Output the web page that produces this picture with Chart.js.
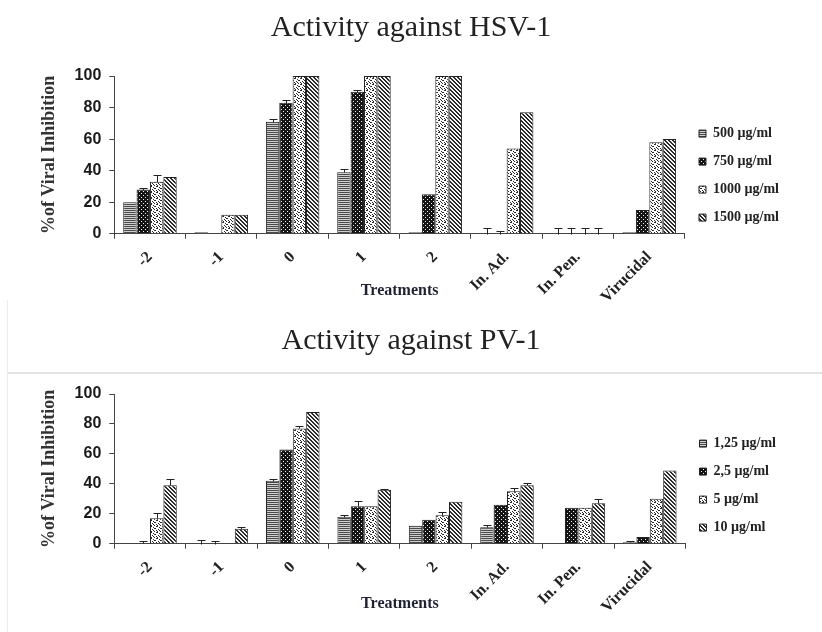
<!DOCTYPE html>
<html><head><meta charset="utf-8">
<script src="https://cdn.jsdelivr.net/npm/chart.js@4.4.1/dist/chart.umd.min.js"></script>
<style>
html,body{margin:0;padding:0;background:#fff;}
#wrap{position:relative;width:822px;height:632px;overflow:hidden;background:#fff;}
#c1{position:absolute;left:0;top:0;width:822px;height:310px;}
#c2{position:absolute;left:0;top:310px;width:822px;height:322px;}
#sep{position:absolute;left:8px;top:372px;width:814px;height:2px;background:#e4e4e4;}
#vline{position:absolute;left:7px;top:300px;width:1px;height:332px;background:#ececec;}
</style></head><body>
<div id="wrap">
<canvas id="c1" width="822" height="310"></canvas>
<div id="sep"></div><div id="vline"></div>
<canvas id="c2" width="822" height="322"></canvas>
</div>
<script>
// ---- data ----
const categories = ['-2', '-1', '0', '1', '2', 'In. Ad.', 'In. Pen.', 'Virucidal'];
const yTicks = [0, 20, 40, 60, 80, 100];

const hsvTitle = 'Activity against HSV-1';
const hsvLabels = ['500 µg/ml', '750 µg/ml', '1000 µg/ml', '1500 µg/ml'];
const hsv500  = [20, 1, 71, 39, 1, 0, 0, 1];
const hsv750  = [28, 0.5, 83, 90, 25, 0, 0, 15];
const hsv1000 = [33, 12, 100, 100, 100, 54, 0, 58];
const hsv1500 = [36, 12, 100, 100, 100, 77, 0, 60];
const hsv500Err  = [0, 0, 2, 2, 0, 3.5, 3.5, 0];
const hsv750Err  = [1, 0, 1.5, 1, 0, 2, 3.5, 0];
const hsv1000Err = [4, 0, 0, 0, 0, 0, 3.5, 0];
const hsv1500Err = [0, 0, 0, 0, 0, 0, 3.5, 0];

const pvTitle = 'Activity against PV-1';
const pvLabels = ['1,25 µg/ml', '2,5 µg/ml', '5 µg/ml', '10 µg/ml'];
const pv125 = [0.5, 0, 42, 18, 12, 11, 0, 1];
const pv25  = [0.5, 0, 63, 25, 16, 26, 24, 4.5];
const pv5   = [17, 0.5, 77, 25, 19, 35, 24, 30];
const pv10  = [39, 10, 88, 36, 28, 39, 27, 49];
const pv125Err = [0, 2.5, 1, 1, 0, 1.5, 0, 1];
const pv25Err  = [1.5, 2, 0, 3.5, 0, 0, 0, 0];
const pv5Err   = [3.5, 0, 1.5, 0, 2.5, 2, 0, 0];
const pv10Err  = [4.5, 1, 0, 0.5, 0, 1.5, 2.7, 0];

const xTitle = 'Treatments';
const yTitle = '%of Viral Inhibition';

// ---- patterns ----
function tile(ctx, w, h, bg, fg, px) {
  const c = document.createElement('canvas'); c.width = w; c.height = h;
  const g = c.getContext('2d');
  g.fillStyle = bg; g.fillRect(0, 0, w, h);
  g.fillStyle = fg; px.forEach(p => g.fillRect(p[0], p[1], 1, 1));
  return ctx.createPattern(c, 'repeat');
}
function patterns(ctx) {
  return [
    tile(ctx, 2, 2, '#cfcfcf', '#4a4a4a', [[0,0],[1,0]]),
    tile(ctx, 4, 4, '#141414', '#f0f0f0', [[1,1],[3,3]]),
    tile(ctx, 6, 6, '#ffffff', '#2a2a2a', [[0,0],[1,0],[3,1],[4,2],[5,2],[2,3],[0,4],[1,5],[3,4],[4,5]]),
    tile(ctx, 4, 4, '#f4f4f4', '#2a2a2a', [[0,0],[1,1],[2,2],[3,3],[1,0],[2,1],[3,2],[0,3]])
  ];
}

const errorBarPlugin = {
  id: 'errorBars',
  afterDatasetsDraw(chart) {
    const ctx = chart.ctx, y = chart.scales.y;
    chart.data.datasets.forEach((ds, di) => {
      if (!ds.errors) return;
      const meta = chart.getDatasetMeta(di);
      meta.data.forEach((bar, i) => {
        const e = ds.errors[i];
        if (!e) return;
        const v = ds.data[i];
        const x = Math.round(bar.x) + 0.5;
        const yTop = Math.round(y.getPixelForValue(v + e)) + 0.5;
        const yBase = Math.round(y.getPixelForValue(v)) + 0.5;
        ctx.save();
        ctx.strokeStyle = '#222'; ctx.lineWidth = 1;
        ctx.beginPath();
        ctx.moveTo(x, yBase); ctx.lineTo(x, yTop);
        ctx.moveTo(x - 4, yTop); ctx.lineTo(x + 4, yTop);
        ctx.stroke(); ctx.restore();
      });
    });
  }
};

function makeChart(id, title, legendLabels, series, errors, opt) {
  const canvas = document.getElementById(id);
  const ctx = canvas.getContext('2d');
  const pats = patterns(ctx);
  return new Chart(ctx, {
    type: 'bar',
    data: {
      labels: categories,
      datasets: series.map((s, i) => ({
        label: legendLabels[i],
        data: s,
        errors: errors[i],
        backgroundColor: pats[i],
        borderColor: '#222',
        borderWidth: 1,
        categoryPercentage: 0.75,
        barPercentage: 1.0
      }))
    },
    options: {
      responsive: false,
      animation: false,
      devicePixelRatio: 1,
      layout: { padding: { left: opt.pad, right: opt.pad, top: 0, bottom: 0 } },
      plugins: {
        title: {
          display: true, text: title, color: '#222',
          font: { family: 'Liberation Serif', size: 30, weight: 'normal' },
          padding: { top: opt.titleTop, bottom: opt.titleBottom }
        },
        legend: {
          position: 'right',
          title: { display: true, text: ' ', font: { size: 1 }, padding: { top: opt.legendShift, bottom: 0 } },
          labels: {
            boxWidth: 7, boxHeight: 7, padding: 14, color: '#222',
            font: { family: 'Liberation Serif', size: 14, weight: 'bold' }
          }
        },
        tooltip: { enabled: false }
      },
      scales: {
        x: {
          grid: { drawOnChartArea: false, drawTicks: true, tickLength: 5, color: '#444' },
          border: { color: '#444', width: 1 },
          ticks: {
            autoSkip: false, minRotation: 45, maxRotation: 45, padding: 9, color: '#222',
            font: { family: 'Liberation Serif', size: 16, weight: 'bold' }
          },
          title: {
            display: true, text: xTitle, color: '#1f2233',
            font: { family: 'Liberation Serif', size: 16, weight: 'bold' },
            padding: { top: opt.xTitleTop, bottom: opt.xTitleBottom }
          }
        },
        y: {
          min: 0, max: 100,
          afterBuildTicks: (axis) => { axis.ticks = yTicks.map(v => ({ value: v })); },
          grid: { drawOnChartArea: false, drawTicks: true, tickLength: 5, color: '#444' },
          border: { color: '#444', width: 1 },
          ticks: {
            padding: 8, color: '#1a1a1a',
            font: { family: 'Liberation Sans', size: 16, weight: 'bold' }
          },
          title: {
            display: true, text: yTitle, color: '#333',
            font: { family: 'Liberation Serif', size: 18, weight: 'bold' },
            padding: { top: 39 - opt.pad, bottom: 6 }
          }
        }
      }
    },
    plugins: [errorBarPlugin]
  });
}

makeChart('c1', hsvTitle, hsvLabels,
  [hsv500, hsv750, hsv1000, hsv1500],
  [hsv500Err, hsv750Err, hsv1000Err, hsv1500Err],
  { pad: 33, titleTop: 10, titleBottom: 30, legendShift: 40, xTitleTop: -35, xTitleBottom: 10 });

makeChart('c2', pvTitle, pvLabels,
  [pv125, pv25, pv5, pv10],
  [pv125Err, pv25Err, pv5Err, pv10Err],
  { pad: 36, titleTop: 13, titleBottom: 35, legendShift: 28, xTitleTop: -32, xTitleBottom: 19 });
</script>
</body></html>
